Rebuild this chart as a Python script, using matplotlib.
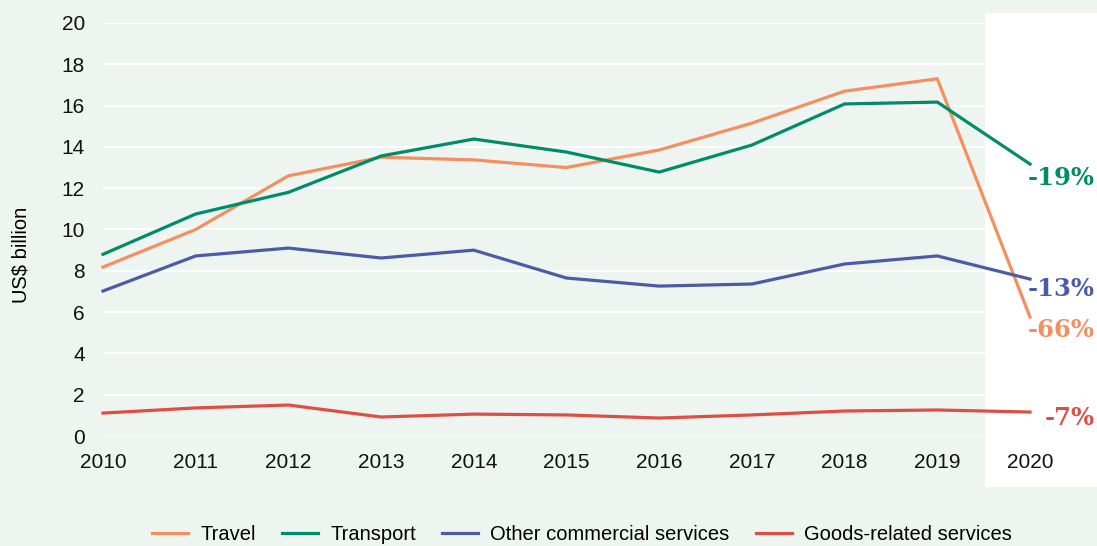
import matplotlib.pyplot as plt
from matplotlib.patches import Rectangle

# data (US$ billion)
years = [2010, 2011, 2012, 2013, 2014, 2015, 2016, 2017, 2018, 2019, 2020]
travel = [8.18, 10.0, 12.6, 13.5, 13.37, 13.0, 13.85, 15.15, 16.7, 17.3, 5.76]
transport = [8.8, 10.75, 11.8, 13.56, 14.38, 13.75, 12.78, 14.09, 16.08, 16.17, 13.17]
other = [7.02, 8.72, 9.1, 8.62, 9.0, 7.65, 7.26, 7.36, 8.33, 8.72, 7.6]
goods = [1.11, 1.36, 1.5, 0.92, 1.06, 1.02, 0.87, 1.02, 1.21, 1.26, 1.16]

series_names = ["Travel", "Transport", "Other commercial services", "Goods-related services"]
change_labels = ["-66%", "-19%", "-13%", "-7%"]
label_y = [5.13, 12.49, 7.12, 0.87]

colors = ["#F4905F", "#008C69", "#4C5BA6", "#DE4E45"]
bg = "#EEF4F0"

plt.rcParams['font.family'] = ['Liberation Sans', 'DejaVu Sans']

W, H = 1097, 546
fig = plt.figure(figsize=(W / 100, H / 100), dpi=100, facecolor=bg)

# white box behind 2020
fig.add_artist(Rectangle((985 / W, (H - 487) / H), (W - 985) / W, (487 - 13) / H,
                         transform=fig.transFigure, facecolor="white",
                         edgecolor="none", zorder=-1))

x0, x1 = 103, 1097
y_top, y_bot = 23, 436
ax = fig.add_axes([x0 / W, (H - y_bot) / H, (x1 - x0) / W, (y_bot - y_top) / H])
ax.set_facecolor("none")
px_per_year = 92.7
ax.set_xlim(2010, 2010 + (x1 - x0) / px_per_year)
ax.set_ylim(0, 20)

for vals, c, name in zip([travel, transport, other, goods], colors, series_names):
    ax.plot(years, vals, color=c, lw=2.3, label=name, clip_on=False, zorder=3)

for txt, y, c in zip(change_labels, label_y, colors):
    ax.text(2010 + (1095 - x0) / px_per_year, y, txt, color=c, ha="right", va="center",
            fontsize=17.5, fontweight="bold", family="DejaVu Serif", zorder=4)

ax.set_yticks(range(0, 21, 2))
ax.set_xticks(years)
ax.tick_params(length=0, labelsize=15, colors="#111111")
ax.tick_params(axis="y", pad=13)
ax.tick_params(axis="x", pad=12)
ax.grid(axis="y", color="white", lw=1.3, zorder=0)
for s in ax.spines.values():
    s.set_visible(False)

fig.text(21 / W, 1 - 255 / H, "US$ billion", rotation=90, ha="center", va="center",
         fontsize=14.5)

fig.legend(*ax.get_legend_handles_labels(), loc="center", bbox_to_anchor=(582 / W, 1 - 535 / H),
           ncol=4, frameon=False, fontsize=14.5, handlelength=1.8, handletextpad=0.6,
           columnspacing=1.3)

fig.savefig("out.png", dpi=100, facecolor=bg)
